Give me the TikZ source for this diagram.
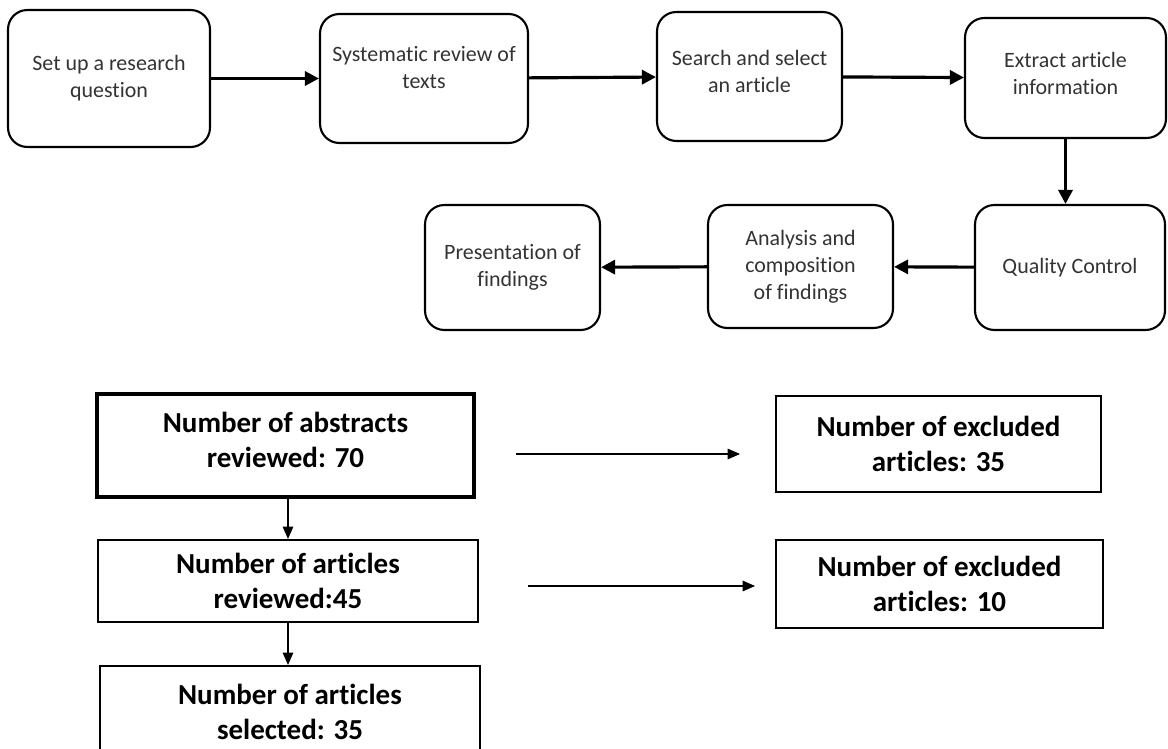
\documentclass[tikz,border=0pt]{standalone}
\usepackage{fontspec}
\setmainfont{Carlito}[Ligatures={NoCommon,NoContextual}]
\usetikzlibrary{arrows.meta}

\tikzset{
  stage/.style={draw, line width=1.2pt, rounded corners=11pt, align=center,
    text=black!80, font=\fontsize{12.5}{15.4}\selectfont},
  countbox/.style={draw, line width=1.2pt, align=center,
    font=\fontsize{16.5}{20}\selectfont\bfseries},
  flow/.style={-{Triangle[length=8pt,width=8pt]}, line width=1.8pt},
  thinflow/.style={-{Triangle[length=7pt,width=6pt]}, line width=0.6pt},
}

\begin{document}
\begin{tikzpicture}[x=0.02cm, y=-0.02cm]
        \useasboundingbox (0,0) rectangle (1168,749);
        % top process
        \node[stage, minimum width=4.04cm, minimum height=2.74cm] (question) at (109,78.5) {Set up a research\\question};
        \node[stage, minimum width=4.16cm, minimum height=2.58cm] (review) at (424,78.5) {Systematic review of\\texts\\[-2.9pt]};
        \node[stage, minimum width=3.7cm, minimum height=2.58cm] (search) at (749.5,76.5) {Search and select\\an article\\[-9.8pt]};
        \node[stage, minimum width=4.02cm, minimum height=2.4cm] (extract) at (1065.5,78) {Extract article\\information\\[-9.8pt]};
        \node[stage, minimum width=3.8cm, minimum height=2.5cm] (quality) at (1070,267.5) {Quality Control};
        \node[stage, minimum width=3.7cm, minimum height=2.46cm] (analysis) at (800.5,266.5) {Analysis and\\composition\\of findings};
        \node[stage, minimum width=3.5cm, minimum height=2.5cm] (present) at (512.5,267.5) {Presentation of\\findings};
        \draw[flow] (question) -- (review);
        \draw[flow] (review) -- (search);
        \draw[flow] (search) -- (extract);
        \draw[flow] (extract.south) -- (extract.south |- quality.north);
        \draw[flow] (quality) -- (analysis);
        \draw[flow] (analysis) -- (present);
        % article counts
        \node[countbox, line width=2.4pt, minimum width=7.54cm, minimum height=2.06cm] (abstracts) at (285.5,445.5) {Number of abstracts\\reviewed: 70\\[-13.2pt]};
        \node[countbox, minimum width=7.6cm, minimum height=1.64cm] (reviewed) at (288,581) {Number of articles\\reviewed:45};
        \node[countbox, minimum width=7.6cm, minimum height=1.84cm] (selected) at (290,712) {Number of articles\\selected: 35};
        \node[countbox, minimum width=6.5cm, minimum height=1.92cm] (excl1) at (938.5,444) {Number of excluded\\articles: 35};
        \node[countbox, minimum width=6.54cm, minimum height=1.76cm] (excl2) at (939.5,584) {Number of excluded\\articles: 10};
        \draw[thinflow] (abstracts.south -| reviewed.north) -- (reviewed.north);
        \draw[thinflow] (reviewed.south) -- (reviewed.south |- selected.north);
        \coordinate (excl1from) at (516,454);
        \coordinate (excl1to) at (740,454);
        \coordinate (excl2from) at (528,586);
        \coordinate (excl2to) at (755,586);
        \draw[thinflow] (excl1from) -- (excl1to);
        \draw[thinflow] (excl2from) -- (excl2to);
    \end{tikzpicture}
\end{document}
